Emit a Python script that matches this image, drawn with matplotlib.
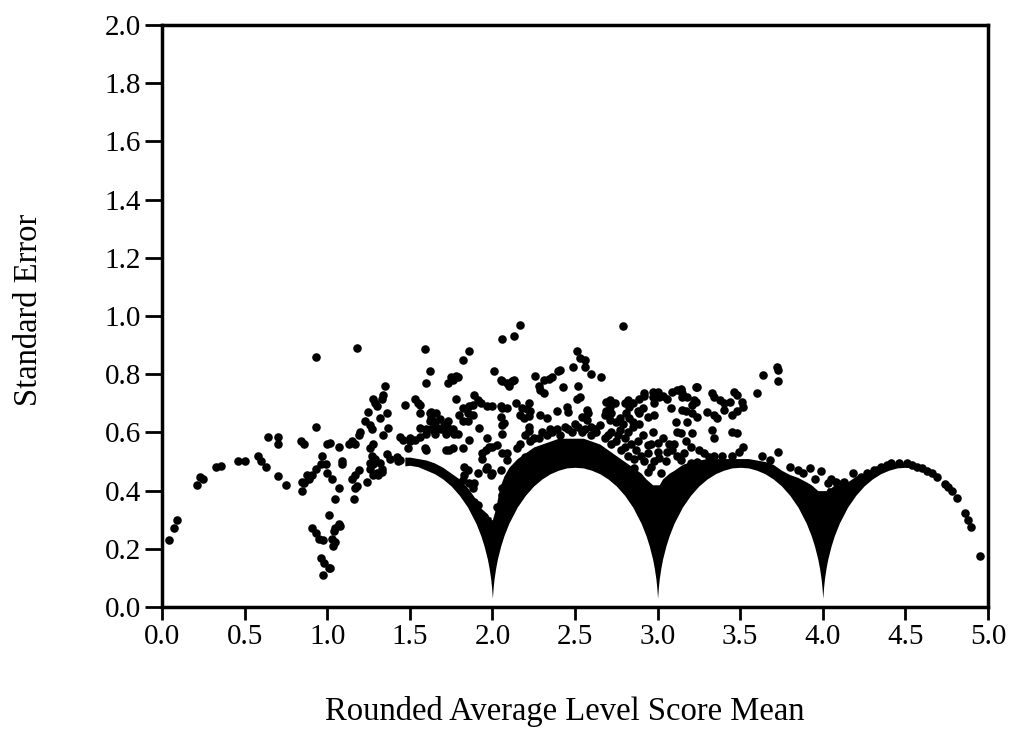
import numpy as np
import matplotlib
matplotlib.use('Agg')
import matplotlib.pyplot as plt

plt.rcParams['font.family'] = ['Liberation Serif', 'DejaVu Serif']

# Scattered points: (rounded mean, standard error)
pts_low = [
    (0.04, 0.23), (0.07, 0.27), (0.09, 0.30), (0.21, 0.42), (0.23, 0.445), (0.25, 0.44),
    (0.33, 0.48), (0.36, 0.485), (0.46, 0.50), (0.50, 0.50), (0.58, 0.52), (0.60, 0.50),
    (0.63, 0.48), (0.64, 0.585), (0.70, 0.585), (0.70, 0.56), (0.70, 0.45), (0.75, 0.42),
    (0.84, 0.57), (0.86, 0.56), (0.93, 0.62), (0.93, 0.86), (0.85, 0.40), (0.86, 0.425),
    (0.88, 0.455), (0.85, 0.43), (0.89, 0.44), (0.91, 0.455), (0.93, 0.475), (0.97, 0.52),
    (0.96, 0.49), (0.99, 0.49), (0.91, 0.27), (0.93, 0.255), (0.95, 0.235), (0.975, 0.23),
    (0.96, 0.17), (0.98, 0.15), (1.01, 0.135), (0.975, 0.11),
]

pts_one = [
    (1.00, 0.56), (1.02, 0.565), (1.07, 0.55), (1.09, 0.49), (1.00, 0.46), (1.03, 0.44),
    (1.07, 0.41), (1.05, 0.37), (1.13, 0.56), (1.01, 0.315), (1.08, 0.28), (1.04, 0.26),
    (1.03, 0.235), (1.035, 0.21), (1.07, 0.285), (1.05, 0.27), (1.02, 0.135), (1.05, 0.225),
    (1.18, 0.89), (1.35, 0.76), (1.34, 0.73), (1.33, 0.715), (1.28, 0.715), (1.29, 0.70),
    (1.30, 0.69), (1.25, 0.67), (1.36, 0.665), (1.32, 0.65), (1.23, 0.64), (1.26, 0.625),
    (1.27, 0.61), (1.37, 0.615), (1.34, 0.59), (1.20, 0.60), (1.19, 0.59), (1.15, 0.57),
    (1.17, 0.56), (1.09, 0.50), (1.27, 0.52), (1.29, 0.51), (1.26, 0.495), (1.32, 0.495),
    (1.36, 0.525), (1.38, 0.51), (1.42, 0.515), (1.44, 0.505), (1.43, 0.50), (1.33, 0.475),
    (1.30, 0.46), (1.28, 0.455), (1.19, 0.47), (1.17, 0.455), (1.15, 0.44), (1.24, 0.43),
    (1.18, 0.415), (1.16, 0.37), (1.17, 0.41), (1.44, 0.585), (1.46, 0.575), (1.47, 0.695),
    (1.28, 0.56), (1.26, 0.545), (1.28, 0.49), (1.26, 0.475), (1.33, 0.465), (1.31, 0.455),
]

pts_two = [
    (1.59, 0.885), (1.62, 0.81), (1.60, 0.77), (1.53, 0.715), (1.56, 0.695), (1.62, 0.665),
    (1.63, 0.65), (1.66, 0.665), (1.50, 0.57), (1.53, 0.575), (1.56, 0.585), (1.60, 0.595),
    (1.63, 0.61), (1.66, 0.62), (1.49, 0.545), (1.60, 0.54), (1.50, 0.58), (1.86, 0.88),
    (1.82, 0.85), (1.79, 0.79), (1.76, 0.78), (1.73, 0.77), (1.75, 0.79), (1.78, 0.795),
    (1.55, 0.70), (1.78, 0.715), (1.89, 0.73), (1.91, 0.71), (1.93, 0.70), (1.82, 0.685),
    (1.86, 0.69), (1.88, 0.695), (1.80, 0.66), (1.85, 0.665), (1.88, 0.66), (1.82, 0.64),
    (1.85, 0.64), (1.97, 0.69), (2.00, 0.69), (1.68, 0.645), (1.71, 0.625), (1.69, 0.61),
    (1.73, 0.615), (1.72, 0.595), (1.76, 0.61), (1.77, 0.595), (1.64, 0.61), (1.60, 0.61),
    (1.56, 0.665), (1.63, 0.67), (1.62, 0.64), (1.56, 0.615), (1.65, 0.635), (1.73, 0.64),
    (1.71, 0.615), (1.76, 0.60), (1.79, 0.595), (1.65, 0.595), (1.86, 0.575), (1.92, 0.615),
    (1.97, 0.58), (1.59, 0.545), (1.72, 0.54), (1.74, 0.54), (1.76, 0.545), (1.82, 0.545),
    (1.94, 0.51), (1.97, 0.48), (1.85, 0.47), (1.91, 0.46), (1.96, 0.475), (1.99, 0.455),
    (1.83, 0.48), (1.83, 0.455), (1.86, 0.425), (1.88, 0.41), (1.89, 0.36), (1.91, 0.35),
    (1.82, 0.435), (1.89, 0.425), (1.94, 0.53), (1.96, 0.54), (1.98, 0.55),
]

pts_three = [
    (2.17, 0.97), (2.13, 0.93), (2.06, 0.92), (2.01, 0.81), (2.06, 0.775), (2.09, 0.77),
    (2.12, 0.775), (2.05, 0.78), (2.13, 0.78), (2.10, 0.76), (2.26, 0.795), (2.31, 0.78),
    (2.34, 0.785), (2.36, 0.79), (2.28, 0.76), (2.29, 0.745), (2.31, 0.735), (2.40, 0.81),
    (2.14, 0.70), (2.06, 0.685), (2.22, 0.70), (2.21, 0.68), (2.23, 0.675), (2.18, 0.685),
    (2.05, 0.69), (2.09, 0.685), (2.17, 0.66), (2.19, 0.65), (2.29, 0.66), (2.33, 0.65),
    (2.39, 0.675), (2.46, 0.669), (2.45, 0.686), (2.58, 0.665), (2.57, 0.676), (2.06, 0.625),
    (2.06, 0.595), (2.22, 0.62), (2.22, 0.605), (2.22, 0.655), (2.07, 0.631), (2.20, 0.59),
    (2.05, 0.652), (2.00, 0.55), (2.03, 0.555), (2.06, 0.53), (2.09, 0.53), (2.15, 0.545),
    (2.17, 0.56), (2.23, 0.57), (2.28, 0.58), (2.33, 0.59), (2.36, 0.60), (2.39, 0.61),
    (2.41, 0.59), (2.51, 0.88), (2.53, 0.855), (2.56, 0.85), (2.49, 0.825), (2.56, 0.825),
    (2.41, 0.815), (2.60, 0.80), (2.66, 0.79), (2.43, 0.755), (2.52, 0.76), (2.51, 0.715),
    (2.53, 0.72), (2.79, 0.965), (2.71, 0.71), (2.74, 0.70), (2.80, 0.70), (2.82, 0.71),
    (2.85, 0.70), (2.89, 0.715), (2.92, 0.725), (2.97, 0.72), (2.98, 0.70), (2.91, 0.685),
    (2.88, 0.675), (2.81, 0.665), (2.77, 0.65), (2.83, 0.65), (2.85, 0.635), (2.89, 0.63),
    (2.79, 0.63), (2.75, 0.635), (2.72, 0.665), (2.69, 0.675), (2.68, 0.66), (2.98, 0.66),
    (2.69, 0.703), (2.71, 0.686), (2.83, 0.686), (2.92, 0.734), (2.97, 0.738), (2.71, 0.641),
    (2.89, 0.665), (2.94, 0.652), (2.85, 0.617), (2.77, 0.607), (2.65, 0.624), (2.57, 0.641),
    (2.54, 0.652), (2.88, 0.569), (2.94, 0.556), (2.94, 0.528), (2.86, 0.477), (2.94, 0.463),
    (2.54, 0.60), (2.62, 0.61), (2.46, 0.61), (2.70, 0.59), (2.75, 0.57), (2.60, 0.59),
    (2.30, 0.60), (2.35, 0.61), (2.44, 0.62), (2.48, 0.60), (2.52, 0.62), (2.56, 0.61),
    (2.60, 0.62), (2.63, 0.60), (2.68, 0.58), (2.72, 0.56), (2.78, 0.54), (2.82, 0.52),
    (2.25, 0.58), (2.50, 0.63), (2.72, 0.60), (2.76, 0.59), (2.80, 0.58), (2.84, 0.56),
    (2.82, 0.60), (2.87, 0.54), (2.90, 0.52), (2.92, 0.50), (2.96, 0.48), (2.98, 0.50),
    (2.96, 0.56), (2.91, 0.59), (2.97, 0.60), (2.80, 0.55), (2.86, 0.51), (2.09, 0.505),
    (2.20, 0.515), (2.25, 0.515), (2.29, 0.53), (2.39, 0.51), (2.03, 0.345), (2.06, 0.385),
    (2.08, 0.40), (2.12, 0.355), (2.06, 0.41), (2.00, 0.46), (2.05, 0.47),
]

pts_four = [
    (3.00, 0.74), (3.03, 0.725), (3.09, 0.74), (3.12, 0.745), (3.14, 0.75), (3.15, 0.72),
    (3.06, 0.715), (3.08, 0.685), (3.11, 0.635), (3.17, 0.675), (3.18, 0.635), (3.12, 0.60),
    (3.17, 0.57), (3.01, 0.72), (3.15, 0.734), (3.18, 0.72), (3.22, 0.71), (3.24, 0.755),
    (3.21, 0.597), (3.00, 0.562), (3.00, 0.532), (3.06, 0.532), (3.01, 0.511), (3.09, 0.539),
    (3.14, 0.504), (3.20, 0.494), (3.24, 0.497), (3.03, 0.58), (3.05, 0.50), (3.07, 0.56),
    (3.02, 0.46), (3.12, 0.52), (3.16, 0.53), (3.20, 0.55), (3.25, 0.54), (3.28, 0.53),
    (3.10, 0.56), (3.72, 0.823), (3.73, 0.816), (3.64, 0.796), (3.73, 0.775), (3.60, 0.734),
    (3.48, 0.727), (3.48, 0.672), (3.48, 0.597), (3.23, 0.755), (3.33, 0.734), (3.34, 0.72),
    (3.38, 0.713), (3.40, 0.70), (3.44, 0.703), (3.46, 0.738), (3.23, 0.703), (3.21, 0.693),
    (3.14, 0.744), (3.15, 0.676), (3.21, 0.665), (3.24, 0.652), (3.30, 0.669), (3.34, 0.659),
    (3.36, 0.648), (3.40, 0.676), (3.51, 0.703), (3.52, 0.686), (3.45, 0.659), (3.14, 0.597),
    (3.33, 0.607), (3.34, 0.58), (3.45, 0.60), (3.52, 0.549), (3.49, 0.532), (3.45, 0.52),
    (3.39, 0.52), (3.34, 0.52), (3.31, 0.515), (3.63, 0.52), (3.68, 0.504), (3.73, 0.532),
    (3.80, 0.48), (3.85, 0.47), (3.88, 0.46), (3.95, 0.44), (3.92, 0.477), (3.99, 0.467),
]

pts_five = [
    (4.03, 0.425), (4.05, 0.44), (4.08, 0.43), (4.18, 0.46), (4.12, 0.425), (4.27, 0.46),
    (4.33, 0.47), (4.13, 0.43), (4.23, 0.446), (4.31, 0.47), (4.35, 0.48), (4.39, 0.487),
    (4.41, 0.495), (4.46, 0.495), (4.51, 0.495), (4.54, 0.487), (4.57, 0.48), (4.60, 0.477),
    (4.63, 0.467), (4.66, 0.46), (4.69, 0.446), (4.74, 0.422), (4.76, 0.412), (4.78, 0.398),
    (4.81, 0.374), (4.86, 0.322), (4.88, 0.298), (4.90, 0.274), (4.95, 0.175),
]

# Solid band of overlapping points along the arcs: x, lower edge, upper edge
band_x = [1.47, 1.50, 1.55, 1.60, 1.65, 1.70, 1.75, 1.80, 1.85, 1.90, 1.93, 1.95, 1.97, 1.98,
          1.99, 1.995, 2.00, 2.005, 2.01, 2.02, 2.03, 2.05, 2.07, 2.10, 2.15, 2.20, 2.25, 2.30,
          2.35, 2.40, 2.45, 2.50, 2.55, 2.60, 2.65, 2.70, 2.75, 2.80, 2.85, 2.90, 2.93, 2.95,
          2.97, 2.98, 2.99, 2.995, 3.00, 3.005, 3.01, 3.02, 3.03, 3.05, 3.07, 3.10, 3.15, 3.20,
          3.25, 3.30, 3.35, 3.40, 3.45, 3.50, 3.55, 3.60, 3.65, 3.70, 3.75, 3.80, 3.85, 3.90,
          3.93, 3.95, 3.97, 3.98, 3.99, 3.995, 4.00, 4.005, 4.01, 4.02, 4.03, 4.05, 4.07, 4.10,
          4.15, 4.20, 4.25, 4.30, 4.35, 4.40, 4.45, 4.50, 4.55, 4.60, 4.63]
band_lo = [0.485, 0.487, 0.482, 0.470, 0.458, 0.440, 0.416, 0.384, 0.343, 0.288, 0.245, 0.209,
           0.164, 0.134, 0.096, 0.068, 0.030, 0.068, 0.096, 0.134, 0.164, 0.209, 0.245, 0.288,
           0.343, 0.384, 0.416, 0.440, 0.458, 0.470, 0.478, 0.480, 0.478, 0.470, 0.458, 0.440,
           0.416, 0.384, 0.343, 0.288, 0.245, 0.209, 0.164, 0.134, 0.096, 0.068, 0.030, 0.068,
           0.096, 0.134, 0.164, 0.209, 0.245, 0.288, 0.343, 0.384, 0.416, 0.440, 0.458, 0.470,
           0.478, 0.480, 0.478, 0.470, 0.458, 0.440, 0.416, 0.384, 0.343, 0.288, 0.245, 0.209,
           0.164, 0.134, 0.096, 0.068, 0.030, 0.068, 0.096, 0.134, 0.164, 0.209, 0.245, 0.288,
           0.343, 0.384, 0.416, 0.440, 0.458, 0.470, 0.478, 0.480, 0.478, 0.470, 0.463]
band_hi = [0.515, 0.515, 0.510, 0.505, 0.495, 0.480, 0.460, 0.440, 0.410, 0.370, 0.340, 0.330,
           0.320, 0.310, 0.310, 0.300, 0.300, 0.310, 0.320, 0.340, 0.370, 0.420, 0.450, 0.480,
           0.510, 0.530, 0.550, 0.560, 0.570, 0.580, 0.580, 0.580, 0.580, 0.570, 0.560, 0.540,
           0.520, 0.500, 0.480, 0.460, 0.440, 0.430, 0.420, 0.420, 0.420, 0.420, 0.420, 0.420,
           0.420, 0.430, 0.440, 0.450, 0.460, 0.470, 0.490, 0.500, 0.505, 0.510, 0.510, 0.510,
           0.510, 0.510, 0.510, 0.505, 0.500, 0.490, 0.470, 0.455, 0.445, 0.430, 0.420, 0.410,
           0.400, 0.400, 0.400, 0.400, 0.400, 0.400, 0.400, 0.400, 0.410, 0.410, 0.420, 0.420,
           0.430, 0.450, 0.460, 0.475, 0.485, 0.490, 0.495, 0.495, 0.490, 0.485, 0.475]

x_ticks = [0.0, 0.5, 1.0, 1.5, 2.0, 2.5, 3.0, 3.5, 4.0, 4.5, 5.0]
y_ticks = [0.0, 0.2, 0.4, 0.6, 0.8, 1.0, 1.2, 1.4, 1.6, 1.8, 2.0]

fig = plt.figure(figsize=(10.13, 7.37), dpi=100)
ax = fig.add_axes([0.1599, 0.1764, 0.8154, 0.7897])

ax.fill_between(band_x, band_lo, band_hi, color='black', lw=0)
for pts in [pts_low, pts_one, pts_two, pts_three, pts_four, pts_five]:
    xs, ys = zip(*pts)
    ax.scatter(xs, ys, s=38, marker='o', color='black', lw=0, clip_on=False)

ax.set_xlim(0, 5)
ax.set_ylim(0, 2)
ax.set_xticks(x_ticks)
ax.set_yticks(y_ticks)
ax.set_xticklabels([f'{v:.1f}' for v in x_ticks])
ax.set_yticklabels([f'{v:.1f}' for v in y_ticks])

for sp in ax.spines.values():
    sp.set_linewidth(2.5)
ax.tick_params(axis='x', direction='out', length=9, width=2, pad=3, labelsize=21)
ax.tick_params(axis='y', direction='out', length=12, width=2, pad=3, labelsize=21)

fig.text(0.5577, 0.034, 'Rounded Average Level Score Mean', ha='center', va='center', fontsize=23.5)
fig.text(0.028, 0.58, 'Standard Error', ha='center', va='center', rotation=90, fontsize=23.5)

fig.savefig('out.png', dpi=100)
